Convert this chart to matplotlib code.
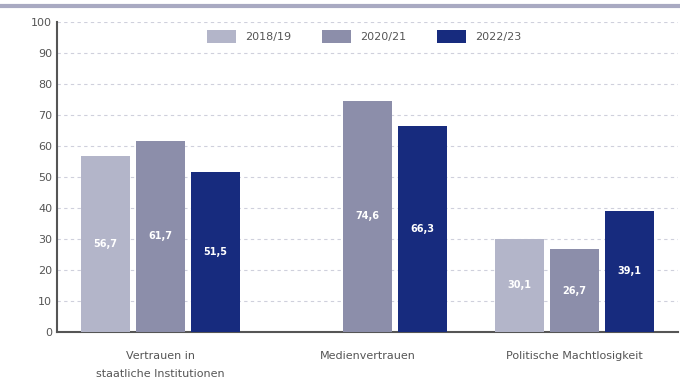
#!/usr/bin/env python
"""Grouped bars: trust in institutions / media trust / political powerlessness by survey wave."""

import numpy as np
import matplotlib.pyplot as plt
from matplotlib.lines import Line2D

#+++ Data
categories = ["Vertrauen in\nstaatliche Institutionen", "Medienvertrauen", "Politische Machtlosigkeit"]
waves = ["2018/19", "2020/21", "2022/23"]
values_1819 = [56.7, np.nan, 30.1]
values_2021 = [61.7, 74.6, 26.7]
values_2223 = [51.5, 66.3, 39.1]
colors = ["#b3b5c9", "#8c8eaa", "#172b7e"]
#---

fig = plt.figure(figsize=(6.8, 3.79), dpi=100)
ax = fig.add_axes([0.084, 0.124, 0.913, 0.818])

x = np.arange(len(categories))
width = 0.24
step = 0.266
for i, (vals, label, col) in enumerate(zip([values_1819, values_2021, values_2223], waves, colors)):
    pos = x + (i - 1) * step
    ax.bar(pos, vals, width=width, color=col, label=label, zorder=3)
    for xp, v in zip(pos, vals):
        if np.isnan(v):
            continue
        ax.text(xp, v / 2, f"{v:.1f}".replace(".", ","), ha="center", va="center",
                color="white", fontsize=7, fontweight="bold", zorder=4)

ax.set_xlim(-0.5, 2.5)
ax.set_ylim(0, 100)
ax.set_yticks(range(0, 101, 10))
ax.set_xticks(x)
ax.set_xticklabels(categories, fontsize=8, color="#555555", linespacing=1.9)
ax.tick_params(axis="both", length=0, colors="#555555", labelsize=8)
ax.tick_params(axis="x", pad=14)
ax.yaxis.grid(True, linestyle=(0, (3, 3)), color="#cfd0dc", linewidth=0.8, zorder=0)
for s in ["top", "right"]:
    ax.spines[s].set_visible(False)
for s in ["left", "bottom"]:
    ax.spines[s].set_color("#555555")
    ax.spines[s].set_linewidth(1.5)

ax.legend(loc="upper center", bbox_to_anchor=(0.495, 1.005), ncol=3, frameon=False,
          fontsize=8, handlelength=2.6, handleheight=1.3, columnspacing=2.8,
          labelcolor="#555555")

# band across the top of the figure
fig.add_artist(Line2D([0, 1], [0.985, 0.985], color="#a9aac2", linewidth=3, transform=fig.transFigure))

fig.savefig("out.png", dpi=100)
